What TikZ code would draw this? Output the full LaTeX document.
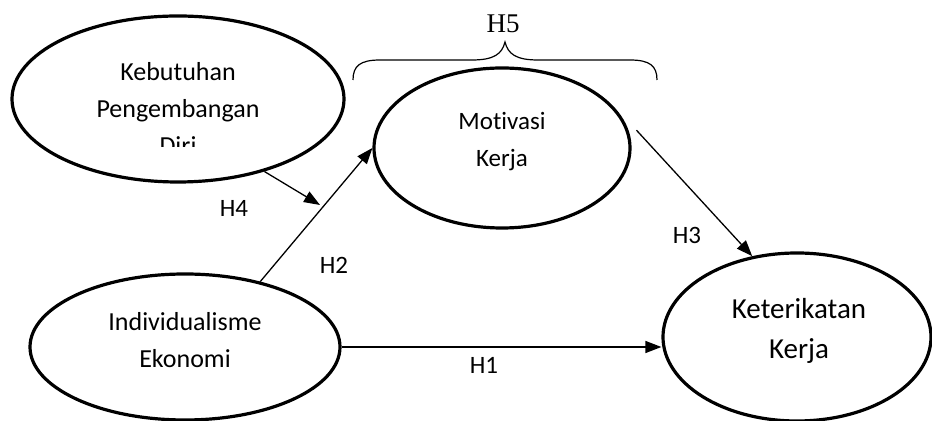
\documentclass[tikz,border=0pt]{standalone}
\usepackage{fontspec}
\setmainfont{Carlito}[Ligatures=NoCommon]
\newfontfamily\seriffont{Liberation Serif}
\usetikzlibrary{shapes.geometric,arrows.meta}

\tikzset{
  var/.style={ellipse, draw, line width=1.6pt, inner sep=0pt},
  txt/.style={align=center, inner sep=0pt, font=\fontsize{13}{18.5}\selectfont},
  hyp/.style={-{Triangle[length=8pt,width=6pt]}, line width=0.65pt},
  hlbl/.style={inner sep=0pt, font=\fontsize{12.5}{15}\selectfont},
}

\begin{document}
\begin{tikzpicture}[x=0.5pt,y=-0.5pt]
\useasboundingbox (0,0) rectangle (932,421);

% latent variables
\node[var, minimum width=166pt, minimum height=83pt] (keb) at (178,99) {};
\node[var, minimum width=128pt, minimum height=80pt] (mot) at (502,148) {};
\node[var, minimum width=155pt, minimum height=73pt] (ind) at (185,347) {};
\node[var, minimum width=134pt, minimum height=84pt] (ket) at (797,337) {};

% names (last line of keb is cut off)
\begin{scope}
\clip (0,0) rectangle (932,147);
\node[txt] (kebtxt) at (178,108) {Kebutuhan\\Pengembangan\\Diri};
\end{scope}
\node[txt, font=\fontsize{12.5}{18.5}\selectfont] (mottxt) at (502,142) {Motivasi\\Kerja};
\node[txt] (indtxt) at (185,340) {Individualisme\\Ekonomi};
\node[txt, font=\fontsize{14.5}{20}\selectfont] (kettxt) at (799,331) {Keterikatan\\Kerja};

% hypotheses
\coordinate (h4end) at (320,205);
\draw[hyp] (keb.-40) -- (h4end);
\draw[hyp] (ind.41) -- (mot.west);
\draw[hyp] ([xshift=4pt]mot.8) -- (ket.119);
\draw[hyp] (ind.east) -- (ind.east -| ket.west);

\node[hlbl] (h1) at (484,365) {H1};
\node[hlbl] (h2) at (334,265) {H2};
\node[hlbl] (h3) at (687,235) {H3};
\node[hlbl] (h4) at (234,208) {H4};

% brace over motivasi
\draw[line width=0.6pt] (353,80) .. controls (353,66) and (360,60) .. (380,60) -- (472,60)
  .. controls (494,60) and (502,54) .. (505,42) .. controls (508,54) and (516,60) .. (538,60)
  -- (630,60) .. controls (650,60) and (657,66) .. (657,80);
\node[inner sep=0pt, font=\seriffont\fontsize{13.5}{15}\selectfont] (h5) at (503,24) {H5};

\end{tikzpicture}
\end{document}
